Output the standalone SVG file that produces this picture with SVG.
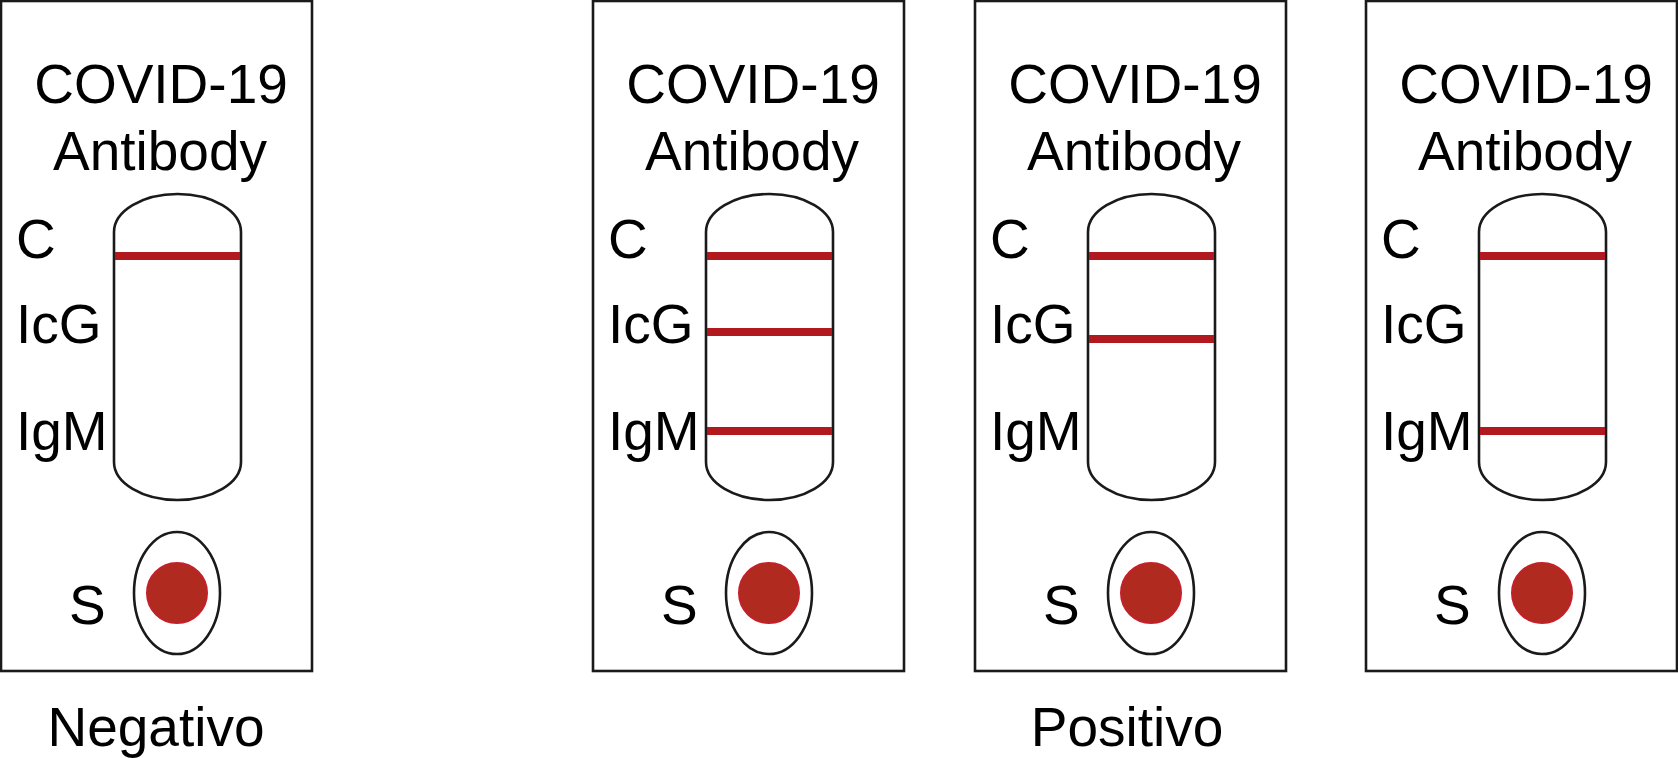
<svg xmlns="http://www.w3.org/2000/svg" width="1678" height="758" viewBox="0 0 1678 758">
<style>
.card{fill:#fff;stroke:#1a1a1a;stroke-width:2.6}
.cap{fill:#fff;stroke:#1a1a1a;stroke-width:2.6}
.band{stroke:#b2191f;stroke-width:8}
.oval{fill:#fff;stroke:#1a1a1a;stroke-width:2.6}
.dot{fill:#b02a1f;stroke:#c4202a;stroke-width:2}
text{font-family:"Liberation Sans",Arial,sans-serif;font-size:55px;fill:#000}
.mid{text-anchor:middle}
</style>
<rect width="1678" height="758" fill="#fff"/>
<defs>
<g id="base">
<rect class="card" x="0" y="0" width="311" height="670"/>
<text class="mid" x="160" y="102">COVID-19</text>
<text class="mid" x="159" y="169">Antibody</text>
<rect class="cap" x="113" y="193" width="127" height="306" rx="63.5" ry="38"/>
<text x="15" y="257">C</text>
<text x="15" y="342">IcG</text>
<text x="15" y="449">IgM</text>
<ellipse class="oval" cx="176" cy="592" rx="43" ry="61"/>
<circle class="dot" cx="176" cy="592" r="30"/>
<text x="68" y="623">S</text>
</g>
</defs>
<g id="card-negative" transform="translate(1,1)">
<use href="#base"/>
<line class="band" x1="114" y1="255" x2="239" y2="255"/>
</g>
<g id="card-positive-1" transform="translate(593,1)">
<use href="#base"/>
<line class="band" x1="114" y1="255" x2="239" y2="255"/>
<line class="band" x1="114" y1="331" x2="239" y2="331"/>
<line class="band" x1="114" y1="430" x2="239" y2="430"/>
</g>
<g id="card-positive-2" transform="translate(975,1)">
<use href="#base"/>
<line class="band" x1="114" y1="255" x2="239" y2="255"/>
<line class="band" x1="114" y1="338" x2="239" y2="338"/>
</g>
<g id="card-positive-3" transform="translate(1366,1)">
<use href="#base"/>
<line class="band" x1="114" y1="255" x2="239" y2="255"/>
<line class="band" x1="114" y1="430" x2="239" y2="430"/>
</g>
<g id="labels">
<text class="mid" x="156" y="746">Negativo</text>
<text class="mid" x="1127" y="746">Positivo</text>
</g>
</svg>
